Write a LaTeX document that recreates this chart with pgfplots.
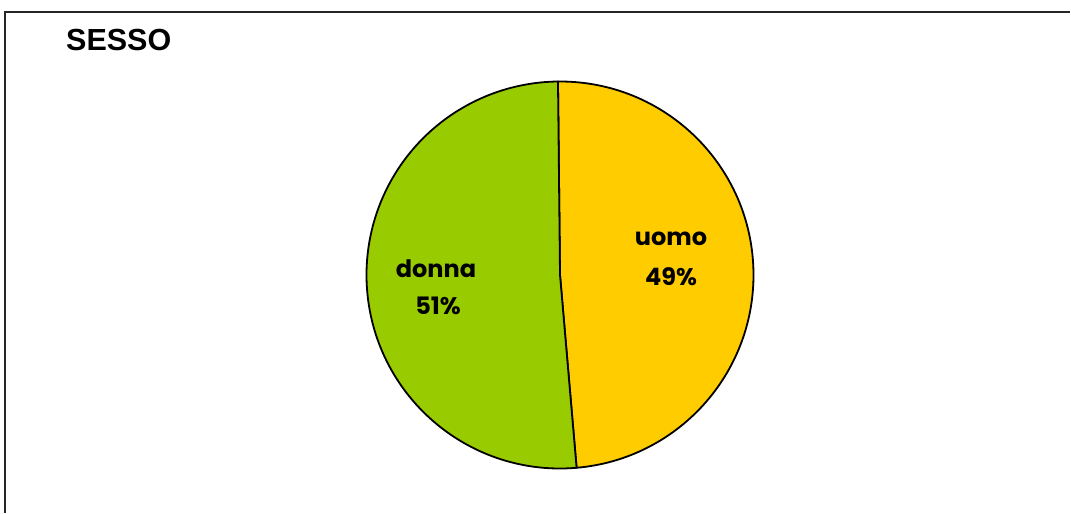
\documentclass[border=0pt]{standalone}
\usepackage{pgfplots}
\usepackage{pgfplotstable}
\pgfplotsset{compat=1.18}
\usepackage{fontspec}
\setmainfont{Liberation Sans}
\newfontfamily\comic{Poppins}
\definecolor{uomocol}{HTML}{FFCC00}
\definecolor{donnacol}{HTML}{99CC00}
\pgfplotstableread{
name value
uomo 48.8
donna 51.2
}\datatable
\pgfplotstablegetelem{0}{value}\of\datatable \let\vA\pgfplotsretval
\pgfplotstablegetelem{1}{value}\of\datatable \let\vB\pgfplotsretval
\begin{document}
\begin{tikzpicture}
\path (0,0) rectangle (1071pt,513pt);
\draw[line width=2pt, black!85] (5pt,0) -- (5pt,501pt) -- (1070pt,501pt);
\node[anchor=base west, inner sep=0pt, font=\fontsize{30.5}{30.5}\selectfont\bfseries] at (66pt,462pt) {SESSO};
\begin{axis}[
  x=1pt, y=1pt,
  xmin=-200, xmax=200, ymin=-200, ymax=200,
  hide axis, clip=false,
  anchor=center, at={(560pt,238pt)},
]
\pgfmathsetmacro{\startA}{90.6}
\pgfmathsetmacro{\endA}{\startA-3.6*\vA}
\pgfmathsetmacro{\endB}{\endA-3.6*\vB}
\filldraw[fill=uomocol, draw=black, line width=1.8pt, line join=round]
  (axis cs:0,0) -- ++(\startA:193.5pt) arc[start angle=\startA, end angle=\endA, radius=193.5pt] -- cycle;
\filldraw[fill=donnacol, draw=black, line width=1.8pt, line join=round]
  (axis cs:0,0) -- ++(\endA:193.5pt) arc[start angle=\endA, end angle=\endB, radius=193.5pt] -- cycle;
\node[font=\comic\fontsize{24}{24}\selectfont\bfseries] at (axis cs:111,36) {uomo};
\node[font=\comic\fontsize{24}{24}\selectfont\bfseries] at (axis cs:111,-2) {49\%};
\node[font=\comic\fontsize{24}{24}\selectfont\bfseries] at (axis cs:-124,6) {donna};
\node[font=\comic\fontsize{24}{24}\selectfont\bfseries] at (axis cs:-122,-31) {51\%};
\end{axis}
\end{tikzpicture}
\end{document}
